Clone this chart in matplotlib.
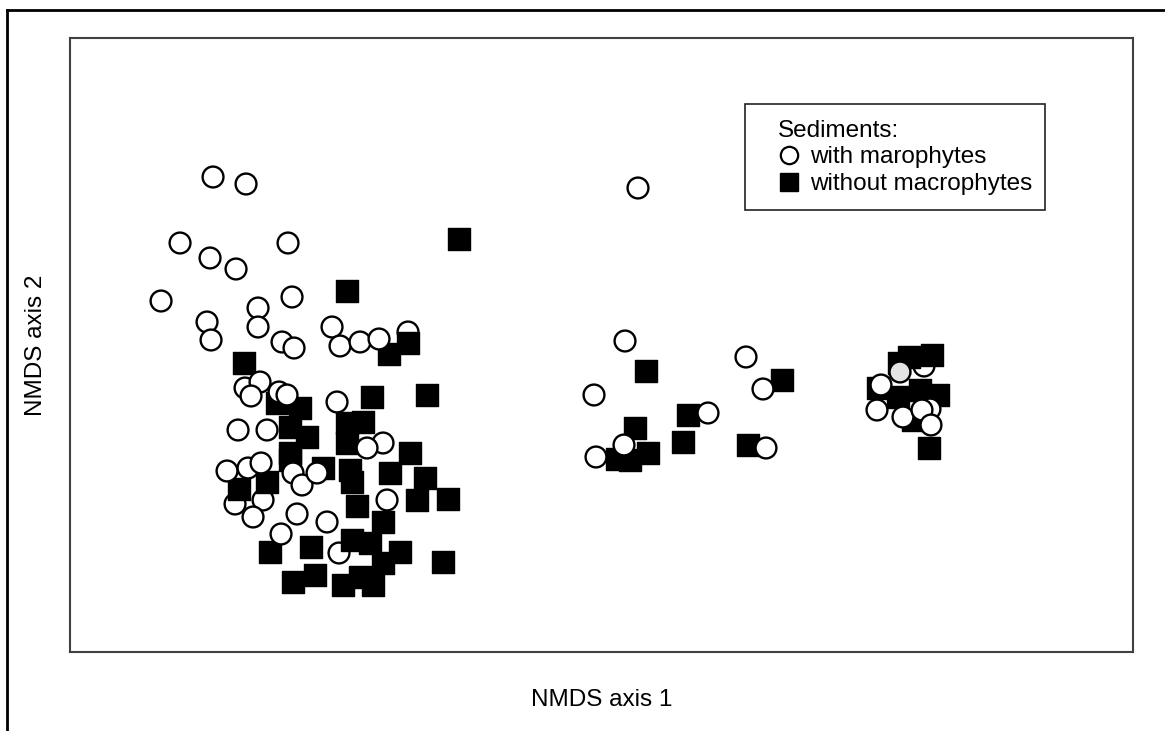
import numpy as np
import matplotlib.pyplot as plt
from matplotlib.lines import Line2D
from matplotlib.patches import Rectangle

plt.rcParams['font.family'] = ['Liberation Sans', 'DejaVu Sans']

# NMDS scores, sediments with macrophytes
with_x = [-0.774, -0.708, -0.840, -0.624, -0.780, -0.728, -0.878, -0.616, -0.684, -0.786,
          -0.684, -0.778, -0.636, -0.612, -0.536, -0.520, -0.480, -0.442, -0.384, -0.710,
          -0.680, -0.698, -0.642, -0.626, -0.526, -0.724, -0.666, -0.434, -0.466, -0.746,
          -0.704, -0.678, -0.730, -0.674, -0.694, -0.614, -0.596, -0.566, -0.426, -0.606,
          -0.546, -0.638, -0.522,
          0.076, 0.050, -0.012, 0.292, 0.326, 0.216, 0.048, -0.008, 0.332,
          0.648, 0.600, 0.562, 0.554, 0.606, 0.660, 0.644, 0.662]
with_y = [0.446, 0.432, 0.314, 0.314, 0.284, 0.262, 0.198, 0.206, 0.184, 0.156,
          0.146, 0.120, 0.116, 0.104, 0.146, 0.108, 0.116, 0.122, 0.136, 0.024,
          0.036, 0.008, 0.016, 0.010, -0.004, -0.060, -0.060, -0.086, -0.096, -0.142,
          -0.136, -0.126, -0.208, -0.200, -0.234, -0.146, -0.170, -0.146, -0.200, -0.228,
          -0.244, -0.268, -0.306,
          0.424, 0.118, 0.010, 0.086, 0.022, -0.026, -0.090, -0.114, -0.096,
          0.068, 0.056, 0.030, -0.020, -0.034, -0.018, -0.020, -0.050]

# NMDS scores, sediments without macrophytes
without_x = [-0.282, -0.506, -0.384, -0.422, -0.712, -0.646, -0.600, -0.456, -0.346, -0.620,
             -0.586, -0.506, -0.474, -0.506, -0.620, -0.380, -0.666, -0.722, -0.620, -0.554,
             -0.500, -0.496, -0.420, -0.350, -0.486, -0.366, -0.304, -0.660, -0.578, -0.496,
             -0.434, -0.460, -0.400, -0.434, -0.314, -0.614, -0.570, -0.514, -0.454, -0.480,
             0.092, 0.364, 0.176, 0.166, 0.070, 0.096, 0.034, 0.060, 0.296,
             0.618, 0.664, 0.598, 0.556, 0.640, 0.676, 0.596, 0.626, 0.658]
without_y = [0.322, 0.218, 0.114, 0.092, 0.074, -0.006, -0.016, 0.006, 0.010, -0.054,
             -0.074, -0.046, -0.044, -0.086, -0.106, -0.106, -0.164, -0.178, -0.120, -0.136,
             -0.140, -0.164, -0.146, -0.156, -0.212, -0.200, -0.198, -0.304, -0.294, -0.280,
             -0.244, -0.286, -0.304, -0.326, -0.324, -0.364, -0.350, -0.370, -0.370, -0.354,
             0.058, 0.040, -0.030, -0.084, -0.056, -0.106, -0.118, -0.120, -0.090,
             0.086, 0.090, 0.074, 0.024, 0.020, 0.010, 0.006, -0.040, -0.096]

legend_title = 'Sediments:'
legend_labels = ['with marophytes', 'without macrophytes']

with_x = np.array(with_x)
with_y = np.array(with_y)
without_x = np.array(without_x)
without_y = np.array(without_y)

# a few open circles sit beneath the squares, one is filled light grey
under = np.zeros(len(with_x), bool)
under[[18, 32, 33, 42, 52]] = True
fills = np.array(['white'] * len(with_x), dtype=object)
fills[53] = '#e4e4e4'

fig = plt.figure(figsize=(11.65, 7.31), dpi=100)
ax = fig.add_axes([0.0597, 0.1074, 0.9128, 0.8413])

ax.scatter(with_x[under], with_y[under], s=15**2, marker='o', facecolors=list(fills[under]),
           edgecolors='black', linewidths=1.7, zorder=2)
ax.scatter(without_x, without_y, s=16.5**2, marker='s', facecolors='black',
           edgecolors='black', linewidths=1.0, zorder=3)
ax.scatter(with_x[~under], with_y[~under], s=15**2, marker='o', facecolors=list(fills[~under]),
           edgecolors='black', linewidths=1.7, zorder=4)

ax.set_xlim(-1.061, 1.066)
ax.set_ylim(-0.505, 0.725)
ax.set_xticks([])
ax.set_yticks([])
for sp in ax.spines.values():
    sp.set_color('#404040')
    sp.set_linewidth(1.5)

ax.set_xlabel('NMDS axis 1', fontsize=17.5, labelpad=26)
ax.set_ylabel('NMDS axis 2', fontsize=17.5, labelpad=16)

# legend box
ax.add_patch(Rectangle((0.6352, 0.7195), 0.2821, 0.1724, transform=ax.transAxes,
                       facecolor='white', edgecolor='#222222', linewidth=1.2, zorder=5))
handles = [Line2D([], [], marker='o', linestyle='none', markersize=12.5,
                  markerfacecolor='white', markeredgecolor='black', markeredgewidth=1.6),
           Line2D([], [], marker='s', linestyle='none', markersize=13,
                  markerfacecolor='black', markeredgecolor='black')]
leg = ax.legend(handles, legend_labels, title=legend_title, loc='upper left',
                bbox_to_anchor=(0.6662, 0.8665), frameon=False, fontsize=17.5,
                title_fontsize=17.5, alignment='left', borderpad=0, borderaxespad=0,
                handlelength=0.88, handletextpad=0.42, labelspacing=0.2)
leg.set_zorder(6)

# outer frame lines (top and left)
fig.add_artist(Line2D([0.0056, 1.0], [0.9863, 0.9863], transform=fig.transFigure,
                      color='black', linewidth=2))
fig.add_artist(Line2D([0.0056, 0.0056], [0.0, 0.9863], transform=fig.transFigure,
                      color='black', linewidth=2))

fig.savefig('out.png', dpi=100)
